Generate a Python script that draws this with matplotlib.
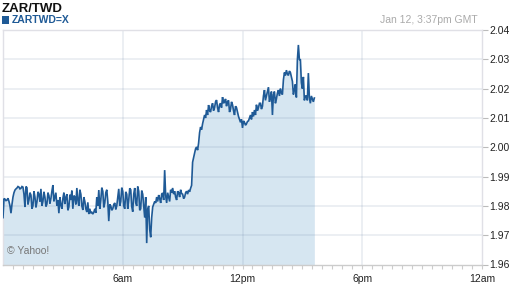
import matplotlib
matplotlib.use("Agg")
import matplotlib.pyplot as plt
import numpy as np
from matplotlib.patches import Rectangle

title = "ZAR/TWD"
symbol = "ZARTWD=X"
stamp = "Jan 12, 3:37pm GMT"
credit = "\u00a9 Yahoo!"

# one quote every 3 minutes from midnight
step_minutes = 3
prices = [
    1.9760, 1.9825, 1.9823, 1.9818, 1.9820, 1.9826, 1.9815, 1.9800, 1.9775, 1.9805,
    1.9830, 1.9845, 1.9854, 1.9858, 1.9861, 1.9866, 1.9864, 1.9858, 1.9860, 1.9866,
    1.9864, 1.9840, 1.9796, 1.9866, 1.9862, 1.9805, 1.9820, 1.9845, 1.9837, 1.9790,
    1.9800, 1.9850, 1.9830, 1.9795, 1.9813, 1.9848, 1.9840, 1.9815, 1.9858, 1.9800,
    1.9815, 1.9848, 1.9830, 1.9798, 1.9806, 1.9845, 1.9835, 1.9808, 1.9825, 1.9850,
    1.9871, 1.9815, 1.9830, 1.9845, 1.9800, 1.9820, 1.9775, 1.9830, 1.9803, 1.9790,
    1.9825, 1.9845, 1.9806, 1.9830, 1.9840, 1.9785, 1.9796, 1.9838, 1.9820, 1.9852,
    1.9790, 1.9835, 1.9830, 1.9805, 1.9861, 1.9820, 1.9800, 1.9855, 1.9840, 1.9800,
    1.9786, 1.9830, 1.9815, 1.9790, 1.9779, 1.9812, 1.9772, 1.9790, 1.9775, 1.9778,
    1.9772, 1.9778, 1.9790, 1.9776, 1.9830, 1.9800, 1.9854, 1.9790, 1.9820, 1.9862,
    1.9850, 1.9795, 1.9810, 1.9845, 1.9855, 1.9815, 1.9748, 1.9805, 1.9800, 1.9785,
    1.9790, 1.9805, 1.9810, 1.9788, 1.9800, 1.9830, 1.9858, 1.9800, 1.9815, 1.9862,
    1.9850, 1.9800, 1.9790, 1.9848, 1.9840, 1.9790, 1.9820, 1.9860, 1.9855, 1.9798,
    1.9780, 1.9840, 1.9861, 1.9810, 1.9800, 1.9866, 1.9850, 1.9785, 1.9790, 1.9852,
    1.9840, 1.9800, 1.9760, 1.9830, 1.9673, 1.9790, 1.9800, 1.9720, 1.9693, 1.9760,
    1.9796, 1.9805, 1.9815, 1.9810, 1.9830, 1.9815, 1.9837, 1.9825, 1.9810, 1.9840,
    1.9844, 1.9820, 1.9922, 1.9835, 1.9810, 1.9845, 1.9830, 1.9815, 1.9855, 1.9845,
    1.9861, 1.9840, 1.9850, 1.9830, 1.9820, 1.9850, 1.9845, 1.9830, 1.9855, 1.9842,
    1.9840, 1.9825, 1.9830, 1.9845, 1.9850, 1.9840, 1.9854, 1.9848, 1.9860, 1.9870,
    1.9949, 1.9965, 1.9980, 1.9995, 2.0001, 1.9990, 2.0014, 2.0050, 2.0069, 2.0060,
    2.0080, 2.0095, 2.0110, 2.0100, 2.0127, 2.0110, 2.0144, 2.0125, 2.0120, 2.0140,
    2.0150, 2.0125, 2.0135, 2.0155, 2.0161, 2.0135, 2.0120, 2.0145, 2.0150, 2.0135,
    2.0171, 2.0150, 2.0155, 2.0165, 2.0140, 2.0155, 2.0160, 2.0120, 2.0130, 2.0155,
    2.0145, 2.0125, 2.0110, 2.0140, 2.0135, 2.0120, 2.0105, 2.0095, 2.0085, 2.0095,
    2.0066, 2.0090, 2.0085, 2.0075, 2.0080, 2.0088, 2.0090, 2.0100, 2.0110, 2.0095,
    2.0120, 2.0105, 2.0127, 2.0110, 2.0145, 2.0125, 2.0135, 2.0150, 2.0150, 2.0130,
    2.0140, 2.0175, 2.0195, 2.0160, 2.0175, 2.0190, 2.0205, 2.0155, 2.0170, 2.0190,
    2.0110, 2.0180, 2.0190, 2.0150, 2.0165, 2.0185, 2.0195, 2.0175, 2.0200, 2.0185,
    2.0180, 2.0230, 2.0255, 2.0245, 2.0263, 2.0250, 2.0245, 2.0260, 2.0255, 2.0240,
    2.0225, 2.0180, 2.0195, 2.0215, 2.0170, 2.0298, 2.0349, 2.0298, 2.0300, 2.0220,
    2.0200, 2.0240, 2.0160, 2.0175, 2.0175, 2.0160, 2.0253, 2.0170, 2.0150, 2.0175,
    2.0165, 2.0155, 2.0168,
]
y_ticks = [1.96, 1.97, 1.98, 1.99, 2.00, 2.01, 2.02, 2.03, 2.04]
x_ticks_hours = [6, 12, 18, 24]
x_tick_labels = ["6am", "12pm", "6pm", "12am"]

hours = np.arange(len(prices)) * step_minutes / 60.0

W, H = 512, 288
fig = plt.figure(figsize=(W / 100, H / 100), dpi=100)
fig.patch.set_facecolor("white")
left, right, top, bottom = 3, 482, 30, 264.5
ax = fig.add_axes([left / W, (H - bottom) / H, (right - left) / W, (bottom - top) / H])

line_c = "#1f5a96"
fill_c = "#d6e6f1"

ax.fill_between(hours, prices, 1.96, color=fill_c, lw=0, zorder=1)
ax.plot(hours, prices, color=line_c, lw=1.2, zorder=3, solid_joinstyle="miter")

ax.set_xlim(0, 24)
ax.set_ylim(1.96, 2.04)

# grid
grid_c = (0.35, 0.45, 0.6, 0.13)
for yv in y_ticks[1:-1]:
    ax.axhline(yv, color=grid_c, lw=1.2, zorder=2)
for xv in x_ticks_hours[:-1]:
    ax.axvline(xv, color=grid_c, lw=1.2, zorder=2)

ax.yaxis.tick_right()
ax.set_yticks(y_ticks)
ax.set_yticklabels([f"{v:.2f}" for v in y_ticks])
ax.set_xticks(x_ticks_hours)
ax.set_xticklabels(x_tick_labels)
ax.set_xticks(np.arange(0.5, 24, 0.5), minor=True)
ax.tick_params(axis="y", which="major", length=4, width=0.8, color="#bbbbbb",
               labelsize=7.5, labelcolor="#222222", pad=1.5)
ax.tick_params(axis="x", which="major", length=3, width=0.8, color="#cccccc",
               labelsize=7.5, labelcolor="#222222", pad=4)
ax.tick_params(axis="x", which="minor", length=3, width=0.8, color="#cccccc")
for lab in ax.get_xticklabels() + ax.get_yticklabels():
    lab.set_family("Liberation Sans")

for s in ["top", "left", "right"]:
    ax.spines[s].set_color("#e0e0e6")
    ax.spines[s].set_linewidth(1.0)
ax.spines["bottom"].set_color("#cccccc")
ax.spines["bottom"].set_linewidth(1.0)

ax.text(0.008, 0.035, credit, transform=ax.transAxes, fontsize=7.5,
        color="#777777", family="Liberation Sans", va="bottom", ha="left", zorder=4)

fig.text(2 / W, 1 - 9 / H, title, fontsize=9.5, fontweight="bold", color="#111111",
         family="Liberation Sans", va="center", ha="left")
fig.patches.append(Rectangle((2 / W, 1 - 24 / H), 7 / W, 8 / H, transform=fig.transFigure,
                             facecolor=line_c, edgecolor="none"))
fig.text(12 / W, 1 - 20 / H, symbol, fontsize=7.5, fontweight="bold", color=line_c,
         family="Liberation Sans", va="center", ha="left")
fig.text(478 / W, 1 - 20 / H, stamp, fontsize=7.5, color="#aaaaaa",
         family="Liberation Sans", va="center", ha="right")

fig.savefig("out.png", dpi=100)
